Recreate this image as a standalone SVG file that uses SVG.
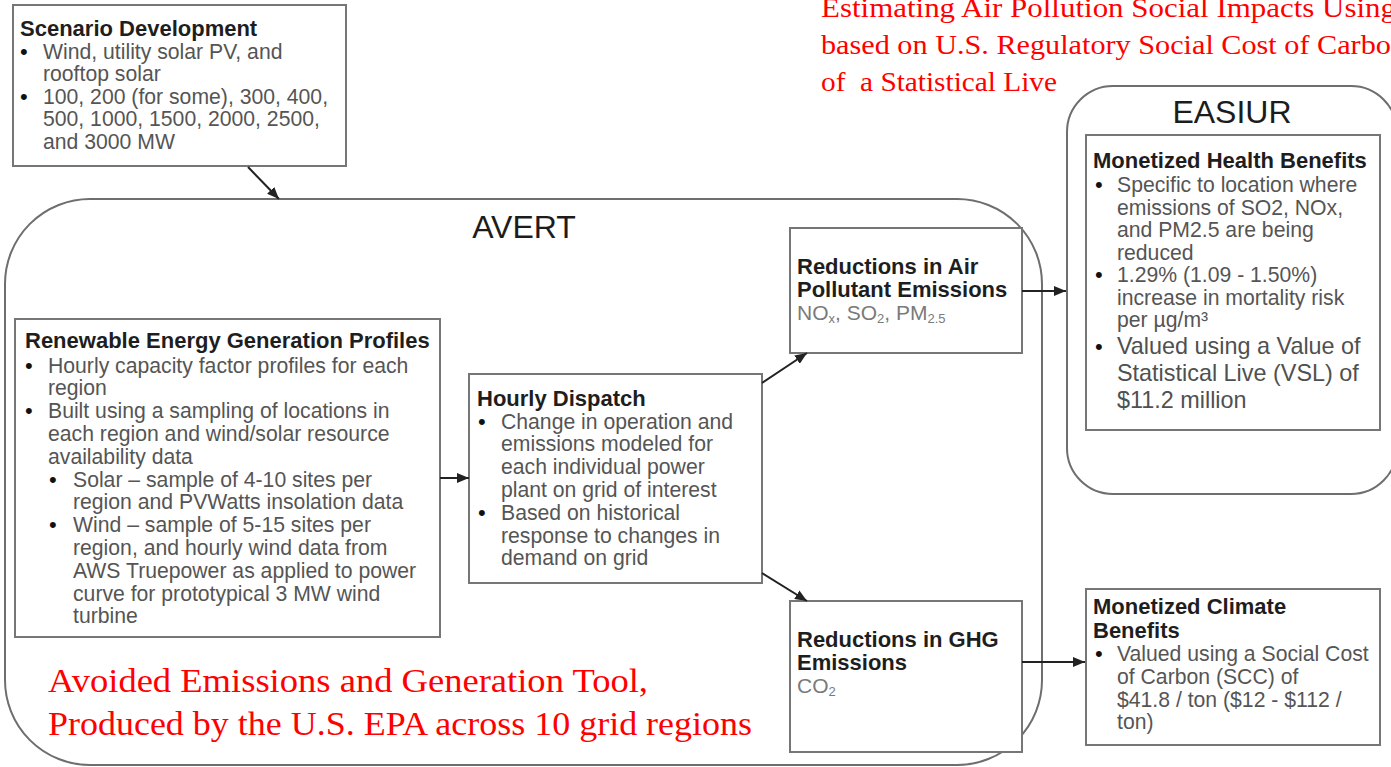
<svg xmlns="http://www.w3.org/2000/svg" width="1391" height="767" viewBox="0 0 1391 767">
  <defs>
    <style>
      .box { fill: #ffffff; stroke: #767676; stroke-width: 2; }
      .frame { fill: none; stroke: #6e6e6e; stroke-width: 2; }
      .head { font-family: "Liberation Sans", Arial, sans-serif; font-size: 32px; fill: #1c1c1c; text-anchor: middle; }
      .t { font-family: "Liberation Sans", Arial, sans-serif; font-size: 22px; font-weight: bold; fill: #1e1e1e; }
      .b { font-family: "Liberation Sans", Arial, sans-serif; font-size: 21.2px; fill: #555555; }
      .bl { font-family: "Liberation Sans", Arial, sans-serif; font-size: 23.4px; fill: #505050; }
      .s { font-family: "Liberation Sans", Arial, sans-serif; font-size: 21px; fill: #7a7a7a; }
      .dot { font-family: "Liberation Sans", Arial, sans-serif; font-size: 22px; fill: #111111; }
      .red { font-family: "Liberation Serif", "Times New Roman", serif; fill: #ff0000; white-space: pre; }
      .conn { fill: none; stroke: #222222; stroke-width: 2; marker-end: url(#arrow); }
    </style>
    <marker id="arrow" markerUnits="userSpaceOnUse" viewBox="0 0 12 10" markerWidth="12" markerHeight="10" refX="12" refY="5" orient="auto">
      <path d="M0,0 L12,5 L0,10 z" fill="#222222"/>
    </marker>
  </defs>

  <!-- AVERT container -->
  <g id="avert">
    <rect class="frame" x="5" y="199" width="1037" height="566" rx="85" ry="85"/>
    <text class="head" x="524" y="238">AVERT</text>
  </g>

  <!-- EASIUR container -->
  <g id="easiur">
    <rect class="frame" x="1067" y="86" width="330" height="408" rx="46" ry="46"/>
    <text class="head" x="1232" y="123">EASIUR</text>
  </g>

  <!-- Scenario development -->
  <g id="scenario">
    <rect class="box" x="13" y="5" width="333" height="161"/>
    <text class="t" x="20" y="36">Scenario Development</text>
    <text class="dot" x="20" y="59">•</text>
    <text class="b" x="43" y="59">Wind, utility solar PV, and</text>
    <text class="b" x="43" y="81">rooftop solar</text>
    <text class="dot" x="20" y="103.5">•</text>
    <text class="b" x="43" y="103.5">100, 200 (for some), 300, 400,</text>
    <text class="b" x="43" y="126">500, 1000, 1500, 2000, 2500,</text>
    <text class="b" x="43" y="148.5">and 3000 MW</text>
  </g>

  <!-- Renewable energy generation profiles -->
  <g id="profiles">
    <rect class="box" x="15" y="319" width="425" height="318"/>
    <text class="t" x="25" y="347.5">Renewable Energy Generation Profiles</text>
    <text class="dot" x="25" y="372.5">•</text>
    <text class="b" x="48" y="372.5">Hourly capacity factor profiles for each</text>
    <text class="b" x="48" y="395.3">region</text>
    <text class="dot" x="25" y="418.1">•</text>
    <text class="b" x="48" y="418.1">Built using a sampling of locations in</text>
    <text class="b" x="48" y="440.9">each region and wind/solar resource</text>
    <text class="b" x="48" y="463.7">availability data</text>
    <text class="dot" x="49" y="486.5">•</text>
    <text class="b" x="73" y="486.5">Solar – sample of 4-10 sites per</text>
    <text class="b" x="73" y="509.3">region and PVWatts insolation data</text>
    <text class="dot" x="49" y="532.1">•</text>
    <text class="b" x="73" y="532.1">Wind – sample of 5-15 sites per</text>
    <text class="b" x="73" y="554.9">region, and hourly wind data from</text>
    <text class="b" x="73" y="577.7">AWS Truepower as applied to power</text>
    <text class="b" x="73" y="600.5">curve for prototypical 3 MW wind</text>
    <text class="b" x="73" y="623.3">turbine</text>
  </g>

  <!-- Hourly dispatch -->
  <g id="dispatch">
    <rect class="box" x="469" y="374" width="293" height="209"/>
    <text class="t" x="477" y="406">Hourly Dispatch</text>
    <text class="dot" x="478" y="428.5">•</text>
    <text class="b" x="501" y="428.5">Change in operation and</text>
    <text class="b" x="501" y="451.3">emissions modeled for</text>
    <text class="b" x="501" y="474.1">each individual power</text>
    <text class="b" x="501" y="496.9">plant on grid of interest</text>
    <text class="dot" x="478" y="519.7">•</text>
    <text class="b" x="501" y="519.7">Based on historical</text>
    <text class="b" x="501" y="542.5">response to changes in</text>
    <text class="b" x="501" y="565.3">demand on grid</text>
  </g>

  <!-- Air pollutant reductions -->
  <g id="air">
    <rect class="box" x="790" y="228" width="232" height="125"/>
    <text class="t" x="797" y="274">Reductions in Air</text>
    <text class="t" x="797" y="297">Pollutant Emissions</text>
    <text class="s" x="797" y="320">NO<tspan font-size="13" dy="3">x</tspan><tspan dy="-3">, SO</tspan><tspan font-size="13" dy="3">2</tspan><tspan dy="-3">, PM</tspan><tspan font-size="13" dy="3">2.5</tspan></text>
  </g>

  <!-- GHG reductions -->
  <g id="ghg">
    <rect class="box" x="790" y="601" width="232" height="151"/>
    <text class="t" x="797" y="647">Reductions in GHG</text>
    <text class="t" x="797" y="670">Emissions</text>
    <text class="s" x="797" y="693">CO<tspan font-size="13" dy="3">2</tspan></text>
  </g>

  <!-- Monetized health benefits -->
  <g id="health">
    <rect class="box" x="1086" y="135" width="294" height="295"/>
    <text class="t" x="1093" y="167.5">Monetized Health Benefits</text>
    <text class="dot" x="1095" y="192">•</text>
    <text class="b" x="1117" y="192">Specific to location where</text>
    <text class="b" x="1117" y="214.5">emissions of SO2, NOx,</text>
    <text class="b" x="1117" y="237">and PM2.5 are being</text>
    <text class="b" x="1117" y="259.5">reduced</text>
    <text class="dot" x="1095" y="282">•</text>
    <text class="b" x="1117" y="282">1.29% (1.09 - 1.50%)</text>
    <text class="b" x="1117" y="304.5">increase in mortality risk</text>
    <text class="b" x="1117" y="327">per µg/m³</text>
    <text class="dot" x="1095" y="354">•</text>
    <text class="bl" x="1117" y="354">Valued using a Value of</text>
    <text class="bl" x="1117" y="381">Statistical Live (VSL) of</text>
    <text class="bl" x="1117" y="408">$11.2 million</text>
  </g>

  <!-- Monetized climate benefits -->
  <g id="climate">
    <rect class="box" x="1086" y="589" width="294" height="156"/>
    <text class="t" x="1093" y="614">Monetized Climate</text>
    <text class="t" x="1093" y="638">Benefits</text>
    <text class="dot" x="1095" y="661">•</text>
    <text class="b" x="1117" y="661">Valued using a Social Cost</text>
    <text class="b" x="1117" y="684">of Carbon (SCC) of</text>
    <text class="b" x="1117" y="707">$41.8 / ton ($12 - $112 /</text>
    <text class="b" x="1117" y="729">ton)</text>
  </g>

  <!-- Connectors -->
  <g id="connectors">
    <line class="conn" x1="248" y1="167" x2="279" y2="199"/>
    <line class="conn" x1="440" y1="478" x2="469" y2="478"/>
    <line class="conn" x1="762" y1="383" x2="807" y2="353"/>
    <line class="conn" x1="762" y1="573" x2="807" y2="601"/>
    <line class="conn" x1="1022" y1="291" x2="1066" y2="291"/>
    <line class="conn" x1="1022" y1="662" x2="1085" y2="662"/>
  </g>

  <!-- Annotations -->
  <g id="notes">
    <text class="red" x="821" y="17" font-size="28" textLength="575" lengthAdjust="spacingAndGlyphs">Estimating Air Pollution Social Impacts Using</text>
    <text class="red" x="821" y="54" font-size="28" textLength="585" lengthAdjust="spacingAndGlyphs">based on U.S. Regulatory Social Cost of Carbon</text>
    <text class="red" x="821" y="91" font-size="28" textLength="236" lengthAdjust="spacingAndGlyphs">of  a Statistical Live</text>
    <text class="red" x="48" y="692" font-size="33" textLength="600" lengthAdjust="spacingAndGlyphs">Avoided Emissions and Generation Tool,</text>
    <text class="red" x="48" y="735" font-size="33" textLength="704" lengthAdjust="spacingAndGlyphs">Produced by the U.S. EPA across 10 grid regions</text>
  </g>
</svg>
